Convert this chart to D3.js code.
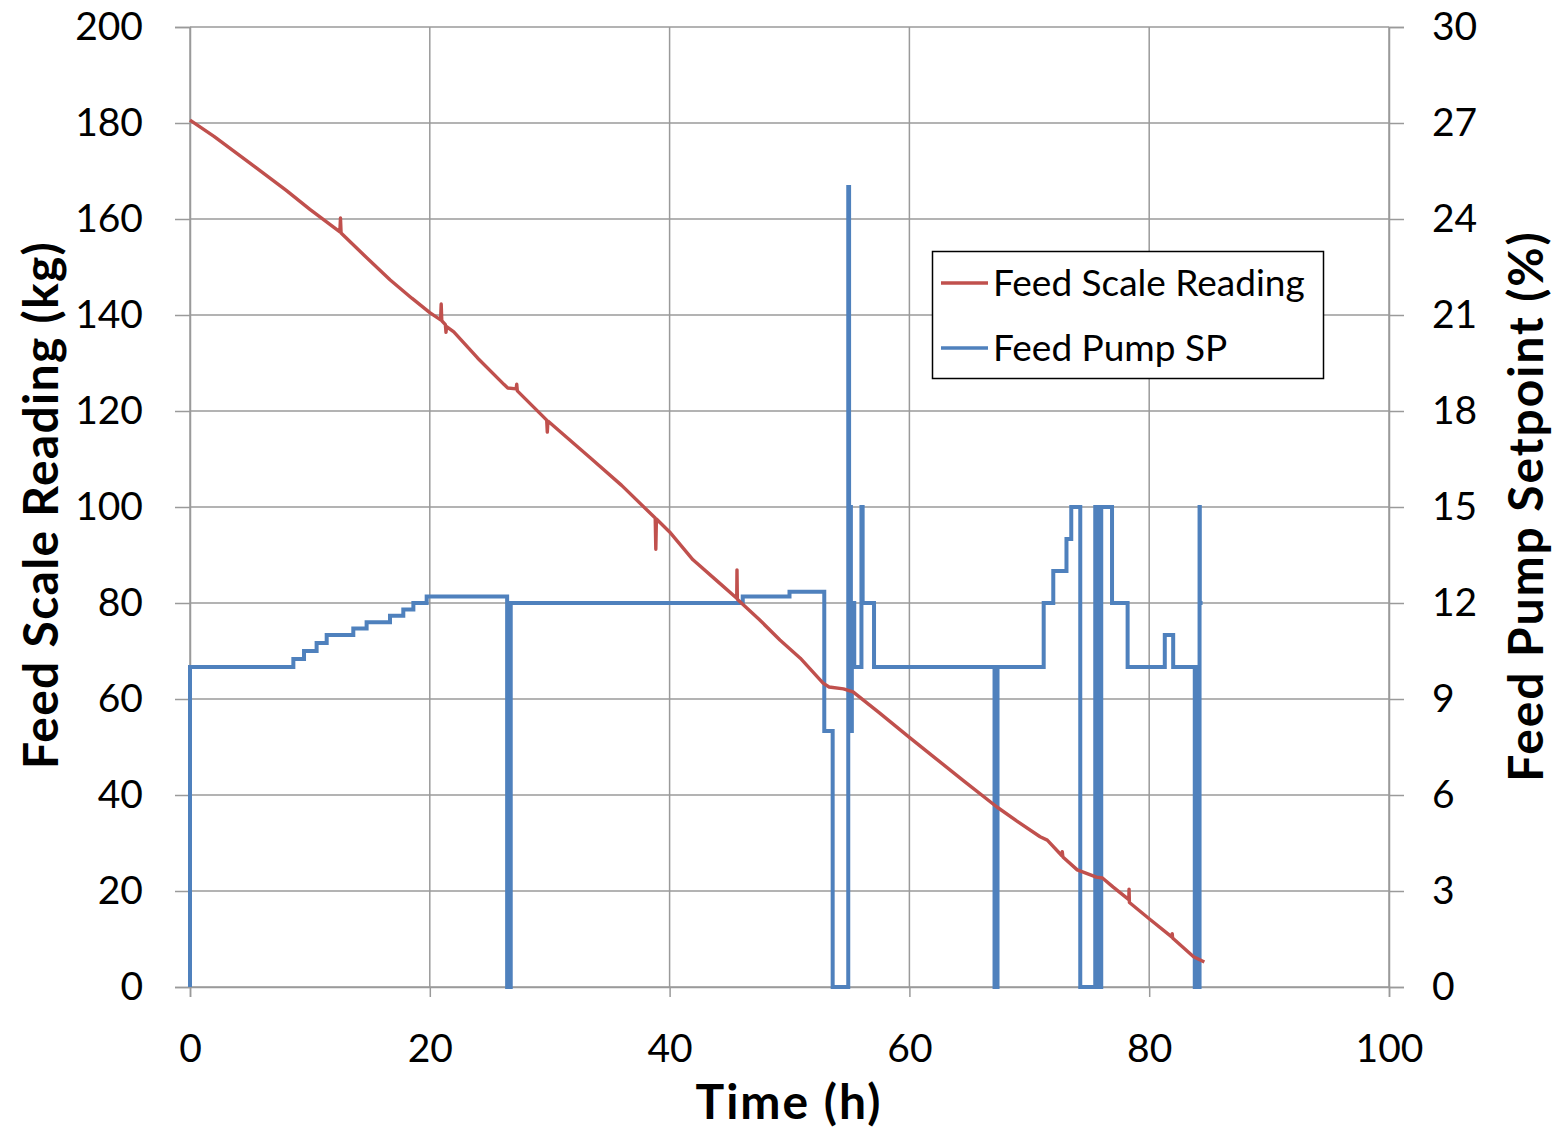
<!DOCTYPE html>
<html><head><meta charset="utf-8">
<script src="https://cdn.jsdelivr.net/npm/d3@7"></script>
<style>body{margin:0;background:#fff;} svg{display:block;} text{font-family:Lato,"Open Sans",sans-serif;fill:#000;}</style>
</head><body><svg id="c" width="1564" height="1132"></svg>
<script>
// Data (time h, value)
const xTicks = [0, 20, 40, 60, 80, 100];
const leftTicks = [0, 20, 40, 60, 80, 100, 120, 140, 160, 180, 200];
const rightTicks = [0, 3, 6, 9, 12, 15, 18, 21, 24, 27, 30];
const seriesNames = ["Feed Scale Reading", "Feed Pump SP"];
// Feed Scale Reading (kg)
const scaleTime = [0,2,5.56,8,10,12.5,12.55,12.6,14.5,16.7,18.5,20,20.9,20.95,21.0,21.3,21.35,21.4,22,24,26.2,26.5,27.2,27.25,27.3,29.75,29.8,29.85,33.4,36,38.8,38.85,38.9,40,41.95,44,45.6,45.62,45.65,47.5,49.2,50.9,52.8,53.3,54.5,55.3,57.5,60.05,62,64.5,67.3,69,70.9,71.5,72.7,72.75,72.8,74.0,75.6,76.1,77,78.3,78.32,78.35,80.1,81.9,81.92,81.95,83.7,84.6];
const scaleKg =   [180.6,177.2,170.6,166,162,157.3,160.2,157.1,152.5,147.3,143.5,140.5,139,142.3,138.8,138,136.4,137.6,136.5,131,125.5,124.8,124.6,125.6,124.2,118.1,115.6,117.9,110.2,104.5,97.7,91.2,97.5,94.8,89,84.5,81,86.9,80.8,76.5,72.3,68.5,63.3,62.5,62.1,61.5,57.1,51.9,48,43,37.5,34.5,31.3,30.6,27.4,28.2,27.1,24.4,22.9,22.7,20.8,18.2,20.4,17.6,14,10.4,11.1,10.2,6.3,5.2];
// Feed Pump SP (%), step changes
const pumpTime = [0,0,8.62,9.51,10.56,11.4,13.62,14.73,16.68,17.79,18.63,19.74,26.45,26.75,46.1,50.0,52.9,53.6,54.9,54.97,55.05,55.12,55.2,55.4,56.0,56.1,57.05,67.1,67.35,71.2,72.0,73.1,73.5,74.25,75.5,75.62,75.75,75.88,76.0,76.9,78.2,81.3,82.0,83.8,83.95,84.05,84.2,84.22,84.45];
const pumpPct =  [0,10,10.25,10.5,10.75,11.0,11.2,11.4,11.6,11.8,12.0,12.2,0,12.0,12.2,12.35,8,0,25,8,15,8,12,10,15,12,10,0,10,12,13,14,15,0,15,0,15,0,15,12,10,11,10,0,10,0,15,12,12];

const svg = d3.select("#c");
const L = 190, R = 1389, T = 27, B = 987;
const x = d3.scaleLinear().domain([0, 100]).range([L, R]);
const yL = d3.scaleLinear().domain([0, 200]).range([B, T]);
const yR = d3.scaleLinear().domain([0, 30]).range([B, T]);
const gridColor = "#9a9a9a";

// gridlines
svg.append("g").selectAll("line").data(leftTicks).join("line")
  .attr("x1", L).attr("x2", R).attr("y1", d => yL(d)).attr("y2", d => yL(d))
  .attr("stroke", gridColor).attr("stroke-width", 1.5);
svg.append("g").selectAll("line").data(xTicks).join("line")
  .attr("x1", d => x(d)).attr("x2", d => x(d)).attr("y1", T).attr("y2", B)
  .attr("stroke", gridColor).attr("stroke-width", 1.5);

// axes
const fs = 39;
const axL = svg.append("g").attr("transform", `translate(${L},0)`)
  .call(d3.axisLeft(yL).tickValues(leftTicks).tickSize(15).tickPadding(32));
const axR = svg.append("g").attr("transform", `translate(${R},0)`)
  .call(d3.axisRight(yR).tickValues(rightTicks).tickSize(15).tickPadding(28));
const axB = svg.append("g").attr("transform", `translate(0,${B})`)
  .call(d3.axisBottom(x).tickValues(xTicks).tickSize(10).tickPadding(37));
[axL, axR, axB].forEach(a => {
  a.selectAll("path").attr("stroke", gridColor).attr("stroke-width", 1.5);
  a.selectAll("line").attr("stroke", gridColor).attr("stroke-width", 1.5);
  a.selectAll("text").attr("font-size", fs).attr("font-family", "Lato").attr("fill", "#000");
});

// lines
const redLine = d3.line().x(d => x(d[0])).y(d => yL(d[1]));
const blueLine = d3.line().x(d => x(d[0])).y(d => yR(d[1])).curve(d3.curveStepAfter);
const pumpData = pumpTime.map((t, i) => [t, pumpPct[i]]);
const scaleData = scaleTime.map((t, i) => [t, scaleKg[i]]);
svg.append("path").datum(pumpData).attr("d", blueLine)
  .attr("fill", "none").attr("stroke", "#4F81BD").attr("stroke-width", 4).attr("stroke-linejoin", "miter");
svg.append("path").datum(scaleData).attr("d", redLine)
  .attr("fill", "none").attr("stroke", "#C0504D").attr("stroke-width", 3.4).attr("stroke-linejoin", "round");

// axis titles
svg.append("text").attr("x", 789).attr("y", 1119).attr("text-anchor", "middle")
  .attr("font-size", 48).attr("font-weight", "bold").attr("letter-spacing", 2).text("Time (h)");
svg.append("text").attr("transform", "translate(58,505) rotate(-90)").attr("text-anchor", "middle")
  .attr("font-size", 48).attr("font-weight", "bold").attr("letter-spacing", 1.3).text("Feed Scale Reading (kg)");
svg.append("text").attr("transform", "translate(1543,506) rotate(-90)").attr("text-anchor", "middle")
  .attr("font-size", 48).attr("font-weight", "bold").attr("letter-spacing", 1.9).text("Feed Pump Setpoint (%)");

// legend
const lg = svg.append("g");
lg.append("rect").attr("x", 932.5).attr("y", 251.5).attr("width", 391).attr("height", 127)
  .attr("fill", "#fff").attr("stroke", "#000").attr("stroke-width", 1.5);
const lcol = ["#C0504D", "#4F81BD"];
seriesNames.forEach((n, i) => {
  const yy = 283 + i * 65;
  lg.append("line").attr("x1", 941).attr("x2", 988).attr("y1", yy).attr("y2", yy)
    .attr("stroke", lcol[i]).attr("stroke-width", 3.5);
  lg.append("text").attr("x", 993).attr("y", yy + 13).attr("font-size", 37).text(n);
});
</script></body></html>
